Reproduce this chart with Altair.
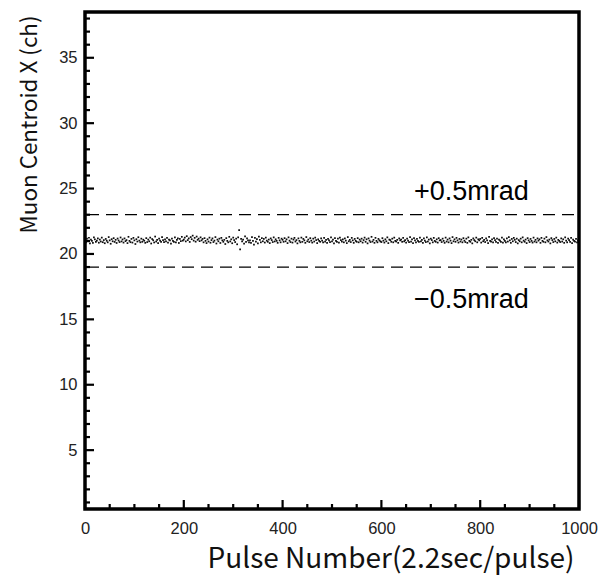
import altair as alt
import pandas as pd

# ---- data ----
centroid = [
    21.05, 20.88, 21.17, 20.97, 21.24, 20.81, 21.09, 21.00, 20.85, 21.27, 21.12, 20.93, 21.02, 21.19, 20.86, 21.10, 20.95, 21.25, 20.90, 21.06,
    20.82, 21.15, 21.01, 20.89, 21.29, 21.04, 20.78, 21.13, 20.97, 21.21, 20.92, 21.08, 20.84, 21.18, 21.03, 20.91, 21.26, 20.96, 21.11, 20.87,
    21.19, 20.98, 21.06, 20.83, 21.31, 21.00, 20.90, 21.15, 20.87, 21.23, 21.04, 20.76, 21.13, 20.95, 21.28, 21.02, 20.89, 21.17, 20.93, 21.09,
    21.01, 20.85, 21.21, 20.91, 21.10, 20.97, 21.25, 20.80, 21.14, 21.05, 20.88, 21.33, 20.95, 21.08, 20.83, 21.18, 21.02, 20.93, 21.29, 21.06,
    20.91, 21.12, 20.97, 21.23, 20.87, 21.10, 21.04, 20.79, 21.17, 21.00, 20.93, 21.27, 20.89, 21.08, 21.20, 20.84, 21.15, 20.98, 21.31, 21.02,
    21.10, 21.25, 20.96, 21.36, 21.06, 21.19, 20.92, 21.29, 21.13, 21.40, 21.02, 21.23, 20.94, 21.33, 21.08, 21.17, 20.98, 21.27, 21.04, 21.15,
    20.89, 21.21, 21.00, 20.83, 21.12, 20.95, 21.25, 20.86, 21.06, 21.19, 20.91, 21.02, 21.29, 20.80, 21.10, 20.97, 21.17, 20.84, 21.23, 21.04,
    20.93, 21.08, 20.76, 21.21, 21.00, 20.89, 21.31, 20.96, 21.12, 20.82, 21.25, 21.06, 20.91, 21.17, 20.74, 21.27, 21.83, 20.35, 21.15, 20.97,
    21.10, 20.79, 21.35, 20.93, 21.19, 21.04, 20.88, 21.04, 20.85, 21.29, 21.00, 20.72, 21.23, 20.95, 21.13, 20.81, 21.33, 21.08, 20.89, 21.21,
    20.97, 21.15, 20.87, 21.25, 21.02, 20.93, 21.10, 20.83, 21.19, 21.06, 20.91, 21.27, 20.96, 21.12, 21.00, 20.85, 21.23, 21.04, 20.89, 21.17,
    21.08, 20.93, 21.21, 20.97, 21.12, 20.83, 21.27, 21.02, 20.91, 21.17, 20.87, 21.10, 21.23, 20.95, 21.06, 20.81, 21.19, 21.00, 20.89, 21.25,
    20.93, 21.15, 21.04, 20.85, 21.29, 20.97, 21.10, 20.91, 21.21, 21.02, 20.87, 21.17, 20.95, 21.25, 21.06, 20.83, 21.12, 21.00, 20.93, 21.19,
    21.02, 20.89, 21.23, 20.95, 21.08, 20.85, 21.15, 21.04, 20.91, 21.27, 20.97, 21.10, 20.81, 21.21, 21.00, 20.93, 21.17, 20.87, 21.25, 21.06,
    20.95, 21.12, 20.89, 21.19, 21.02, 20.83, 21.29, 20.97, 21.08, 20.91, 21.23, 21.04, 20.85, 21.15, 21.00, 20.93, 21.21, 20.89, 21.10, 20.97,
    21.17, 20.87, 21.06, 21.25, 20.93, 21.12, 20.81, 21.19, 21.02, 20.91, 21.31, 20.95, 21.08, 20.85, 21.23, 21.00, 20.89, 21.15, 21.04, 20.96,
    20.91, 21.21, 21.02, 20.87, 21.12, 20.97, 21.27, 20.83, 21.10, 21.06, 20.93, 21.17, 20.89, 21.25, 21.00, 20.95, 21.08, 20.85, 21.19, 21.04,
    21.10, 20.93, 21.23, 20.97, 21.06, 20.87, 21.17, 21.02, 20.91, 21.29, 20.95, 21.12, 20.83, 21.21, 21.04, 20.89, 21.15, 21.00, 20.93, 21.25,
    20.97, 21.08, 20.85, 21.19, 21.02, 20.91, 21.27, 20.95, 21.10, 20.81, 21.17, 21.06, 20.89, 21.23, 21.00, 20.93, 21.12, 20.87, 21.21, 21.04,
    21.06, 20.91, 21.17, 21.00, 20.85, 21.25, 20.95, 21.10, 20.89, 21.19, 21.02, 20.83, 21.29, 20.97, 21.12, 20.93, 21.23, 21.04, 20.87, 21.15,
    20.95, 21.10, 20.89, 21.21, 21.02, 20.91, 21.17, 20.85, 21.27, 21.00, 20.93, 21.08, 20.81, 21.19, 21.06, 20.97, 21.25, 20.89, 21.12, 21.04,
    21.15, 20.87, 21.23, 20.97, 21.08, 20.91, 21.19, 21.04, 20.83, 21.31, 21.00, 20.95, 21.12, 20.89, 21.21, 21.06, 20.93, 21.17, 20.85, 21.10,
    21.02, 20.93, 21.25, 20.87, 21.12, 21.00, 20.89, 21.19, 20.95, 21.29, 21.04, 20.85, 21.15, 20.97, 21.23, 21.08, 20.91, 21.17, 20.81, 21.06,
    20.97, 21.17, 20.89, 21.27, 21.02, 20.93, 21.10, 20.83, 21.21, 21.04, 20.91, 21.15, 21.00, 20.87, 21.25, 20.95, 21.08, 20.89, 21.19, 21.02,
    21.12, 20.85, 21.23, 21.00, 20.93, 21.17, 20.89, 21.29, 21.04, 20.95, 21.10, 20.81, 21.21, 21.06, 20.91, 21.15, 20.97, 21.25, 20.87, 21.08,
    21.00, 20.91, 21.19, 20.95, 21.12, 20.85, 21.27, 21.02, 20.89, 21.17, 21.06, 20.93, 21.23, 20.83, 21.10, 21.00, 20.95, 21.15, 20.89, 21.04,
]
pulse = list(range(0, 2 * len(centroid), 2))

limit_values = [23.0, 19.0]
label_texts = ["+0.5mrad", "\u22120.5mrad"]
label_x = [666, 666]
label_y = [24.7, 16.5]

y_major = [5, 10, 15, 20, 25, 30, 35]
y_minor = [v for v in range(1, 39) if v % 5 != 0]
x_major = [0, 200, 400, 600, 800, 1000]
x_minor = [v for v in range(50, 1000, 50) if v % 200 != 0]

W, H = 494, 497
XDOM = [0, 1000]
YDOM = [0.5, 38.5]

xs = alt.Scale(domain=XDOM, nice=False, zero=False)
ys = alt.Scale(domain=YDOM, nice=False, zero=False)

TICKFONT = "Liberation Sans"
TITLEFONT = "Noto Sans CJK JP"

df = pd.DataFrame({"pulse": pulse, "centroid": centroid})

points = alt.Chart(df).mark_square(size=3, color="black", opacity=0.95, strokeWidth=0).encode(
    x=alt.X("pulse:Q", scale=xs, axis=alt.Axis(
        values=x_major, format="d", title="Pulse Number(2.2sec/pulse)",
        grid=False, domain=False, ticks=False, labelFont=TICKFONT, labelFontSize=16.5,
        labelColor="#222", labelPadding=11, titleFont=TITLEFONT, titleFontSize=28,
        titleFontWeight="normal", titleColor="#111", titleAlign="right", titleX=489,
        titleBaseline="alphabetic", titleY=58, labelFlush=False)),
    y=alt.Y("centroid:Q", scale=ys, axis=alt.Axis(
        values=y_major, format="d", title="Muon Centroid X (ch)",
        grid=False, domain=False, ticks=False, labelFont=TICKFONT, labelFontSize=16.5,
        labelColor="#222", labelPadding=8, titleFont=TITLEFONT, titleFontSize=22.4,
        titleFontWeight="normal", titleColor="#111", titleAngle=270, titleAlign="right",
        titleX=-44, titleY=3, titleBaseline="bottom", labelFlush=False)),
)

lim_df = pd.DataFrame({"y": limit_values})
limits = alt.Chart(lim_df).mark_rule(color="black", strokeWidth=1.3, strokeDash=[12, 7]).encode(
    y=alt.Y("y:Q", scale=ys), x=alt.value(2), x2=alt.value(W))

lab_df = pd.DataFrame({"x": label_x, "y": label_y, "t": label_texts})
labels = alt.Chart(lab_df).mark_text(align="left", baseline="middle", fontSize=27,
                                     font=TICKFONT, color="black").encode(
    x=alt.X("x:Q", scale=xs), y=alt.Y("y:Q", scale=ys), text="t:N")

ymaj = alt.Chart(pd.DataFrame({"v": y_major})).mark_rule(color="black", strokeWidth=2.2).encode(
    y=alt.Y("v:Q", scale=ys), x=alt.value(0), x2=alt.value(9))
ymin = alt.Chart(pd.DataFrame({"v": y_minor})).mark_rule(color="black", strokeWidth=2.2).encode(
    y=alt.Y("v:Q", scale=ys), x=alt.value(0), x2=alt.value(5))
xmaj = alt.Chart(pd.DataFrame({"v": x_major})).mark_rule(color="black", strokeWidth=2.2).encode(
    x=alt.X("v:Q", scale=xs), y=alt.value(H), y2=alt.value(H - 9))
xmin = alt.Chart(pd.DataFrame({"v": x_minor})).mark_rule(color="black", strokeWidth=2.2).encode(
    x=alt.X("v:Q", scale=xs), y=alt.value(H), y2=alt.value(H - 5))

chart = alt.layer(points, limits, labels, ymaj, ymin, xmaj, xmin).properties(
    width=W, height=H,
    autosize=alt.AutoSizeParams(type="none"),
    padding={"left": 85, "top": 12, "right": 28, "bottom": 73},
    background="white",
).configure_view(stroke="black", strokeWidth=3.5)

chart.save("out.html", embed_options={"renderer": "svg", "actions": False})
